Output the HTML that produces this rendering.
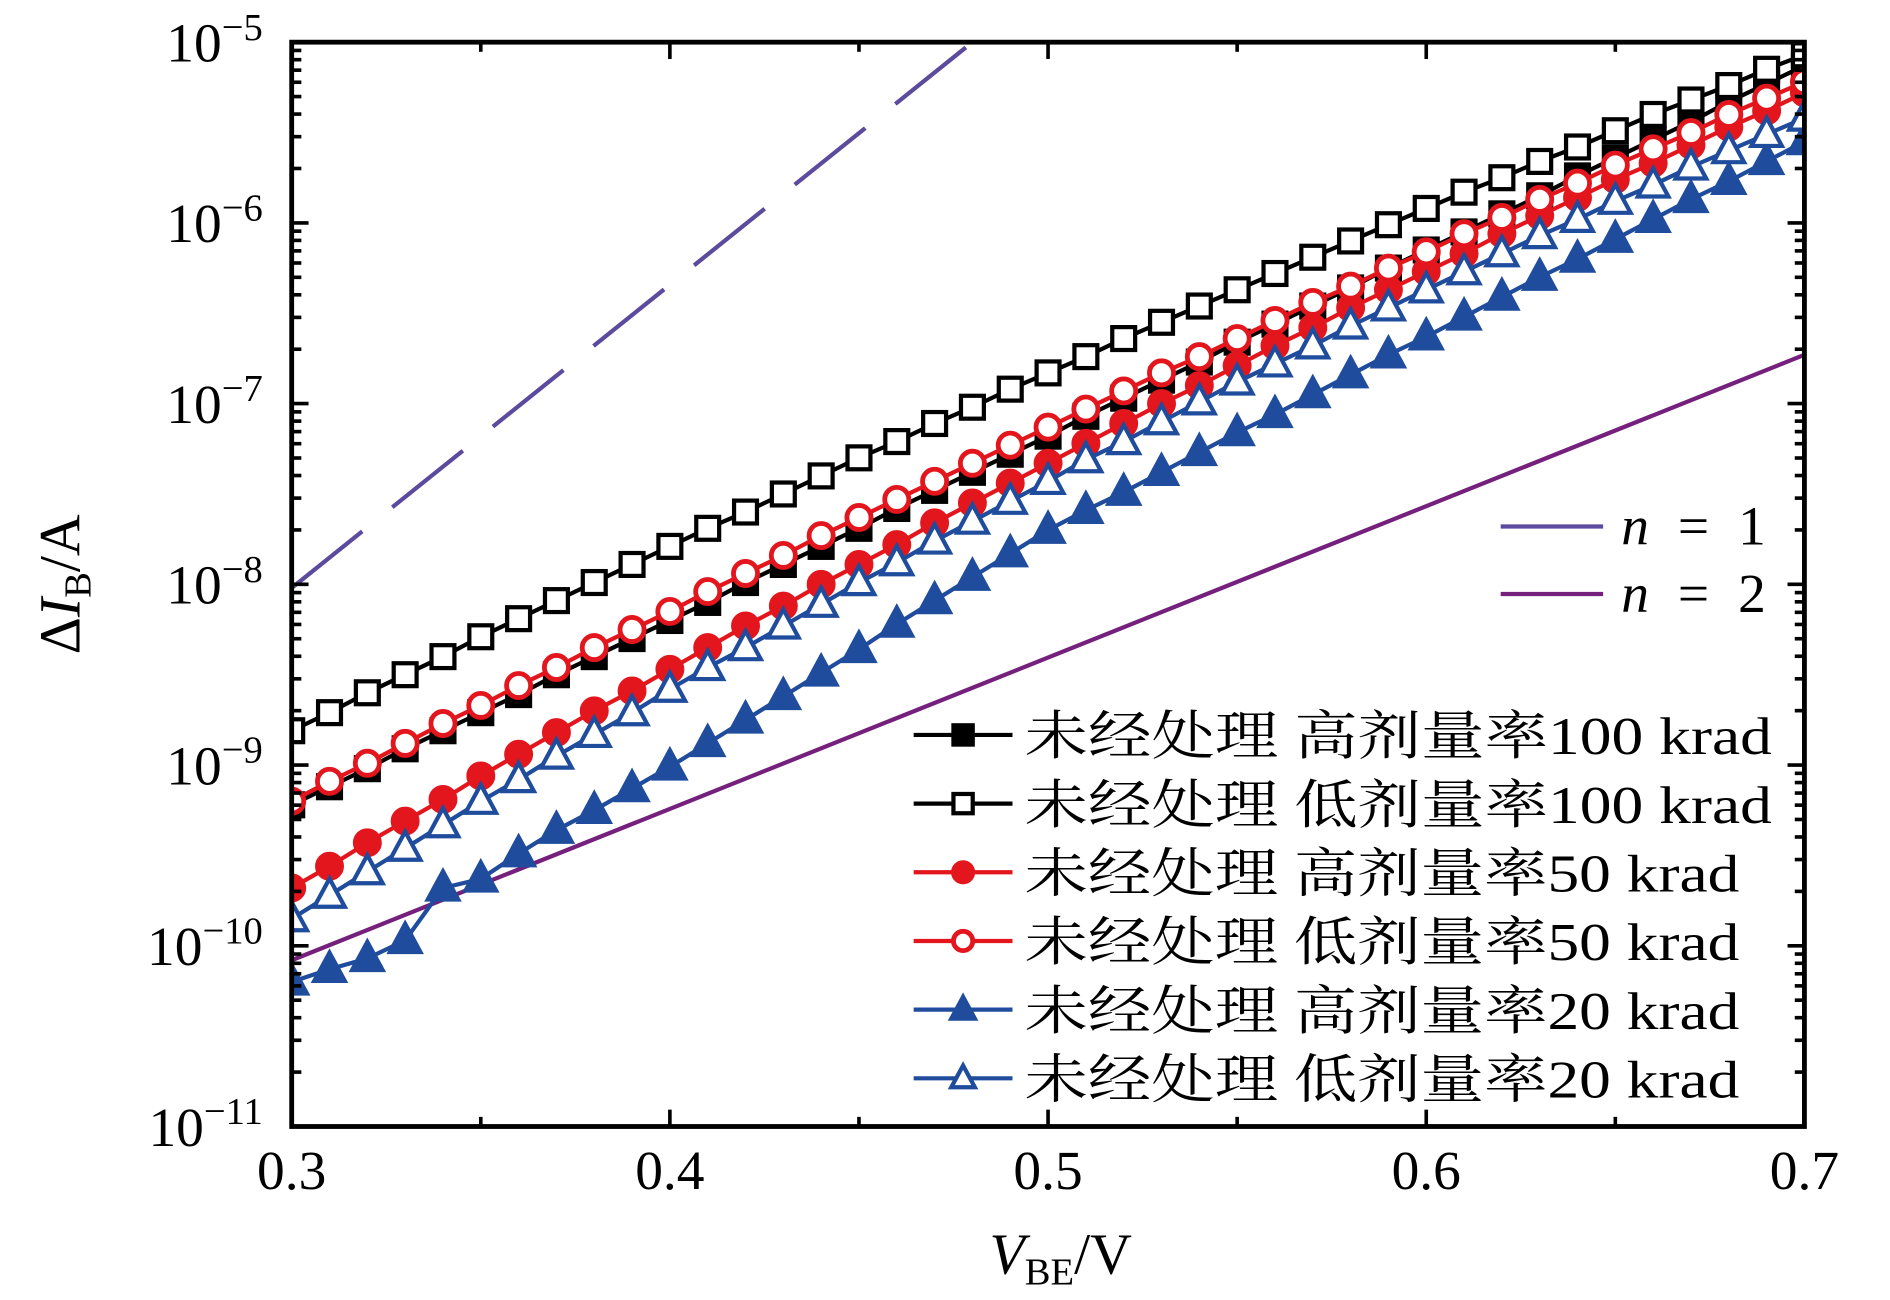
<!DOCTYPE html>
<html><head><meta charset="utf-8"><style>
html,body{margin:0;padding:0;background:#fff;}
svg{display:block;}
text{font-family:"Liberation Serif","Noto Serif CJK SC",serif;fill:#000;}
</style></head><body>
<svg id="chart" xmlns="http://www.w3.org/2000/svg" width="1890" height="1300" viewBox="0 0 1568 1079" preserveAspectRatio="none">
<g id="frame"></g>
<g id="refs"></g>
<g id="series"></g>
<g id="axes"></g>
<g id="legend"></g>
<text x="880" y="1057" font-size="48" text-anchor="middle"><tspan font-style="italic">V</tspan><tspan font-size="32" dy="9">BE</tspan><tspan dy="-9">/V</tspan></text>
<text transform="translate(66,485) rotate(-90)" font-size="48" text-anchor="middle">Δ<tspan font-style="italic">I</tspan><tspan font-size="32" dy="9">B</tspan><tspan dy="-9">/A</tspan></text>
</svg>
<script>
const xValues = [0.30,0.31,0.32,0.33,0.34,0.35,0.36,0.37,0.38,0.39,0.40,0.41,0.42,0.43,0.44,0.45,0.46,0.47,0.48,0.49,0.50,0.51,0.52,0.53,0.54,0.55,0.56,0.57,0.58,0.59,0.60,0.61,0.62,0.63,0.64,0.65,0.66,0.67,0.68,0.69,0.70];
// log10 of ΔIB
const highDose100 = [-9.22,-9.12,-9.02,-8.91,-8.81,-8.71,-8.61,-8.50,-8.40,-8.30,-8.20,-8.10,-7.99,-7.89,-7.79,-7.69,-7.58,-7.48,-7.38,-7.28,-7.18,-7.07,-6.97,-6.87,-6.77,-6.66,-6.56,-6.46,-6.36,-6.25,-6.15,-6.05,-5.95,-5.85,-5.74,-5.64,-5.54,-5.44,-5.33,-5.23,-5.13];
const lowDose100 = [-8.81,-8.71,-8.60,-8.50,-8.40,-8.29,-8.19,-8.09,-7.99,-7.89,-7.79,-7.69,-7.60,-7.50,-7.40,-7.30,-7.21,-7.11,-7.02,-6.92,-6.83,-6.74,-6.64,-6.55,-6.46,-6.37,-6.28,-6.19,-6.10,-6.01,-5.92,-5.83,-5.75,-5.66,-5.58,-5.49,-5.40,-5.32,-5.24,-5.15,-5.07];
const highDose50 = [-9.68,-9.56,-9.43,-9.31,-9.19,-9.06,-8.94,-8.82,-8.70,-8.59,-8.47,-8.35,-8.23,-8.12,-8.00,-7.89,-7.78,-7.66,-7.55,-7.44,-7.33,-7.22,-7.11,-7.00,-6.90,-6.79,-6.68,-6.58,-6.47,-6.37,-6.27,-6.17,-6.06,-5.96,-5.86,-5.76,-5.67,-5.57,-5.47,-5.38,-5.28];
const lowDose50 = [-9.20,-9.09,-8.99,-8.88,-8.77,-8.67,-8.56,-8.46,-8.35,-8.25,-8.15,-8.04,-7.94,-7.84,-7.73,-7.63,-7.53,-7.43,-7.33,-7.23,-7.13,-7.03,-6.93,-6.83,-6.74,-6.64,-6.54,-6.44,-6.35,-6.25,-6.16,-6.06,-5.97,-5.87,-5.78,-5.68,-5.59,-5.50,-5.40,-5.31,-5.22];
const highDose20 = [-10.20,-10.13,-10.07,-9.97,-9.68,-9.63,-9.49,-9.36,-9.25,-9.13,-9.01,-8.88,-8.75,-8.62,-8.49,-8.36,-8.22,-8.09,-7.96,-7.83,-7.70,-7.59,-7.49,-7.38,-7.27,-7.16,-7.06,-6.95,-6.84,-6.73,-6.63,-6.52,-6.41,-6.30,-6.20,-6.09,-5.98,-5.87,-5.77,-5.66,-5.55];
const lowDose20 = [-9.85,-9.72,-9.59,-9.46,-9.33,-9.20,-9.08,-8.95,-8.83,-8.71,-8.58,-8.46,-8.35,-8.23,-8.11,-7.99,-7.88,-7.76,-7.65,-7.54,-7.43,-7.31,-7.21,-7.10,-6.99,-6.88,-6.78,-6.68,-6.57,-6.47,-6.37,-6.27,-6.17,-6.07,-5.98,-5.88,-5.79,-5.69,-5.60,-5.51,-5.42];
const n1X = [0.30,0.48];
const n1Y = [-8.02,-5.00];
const n2X = [0.30,0.70];
const n2Y = [-10.08,-6.73];
const xTicks = [0.3,0.4,0.5,0.6,0.7];
const xTickLabels = ["0.3","0.4","0.5","0.6","0.7"];
const yTickExps = [-5,-6,-7,-8,-9,-10,-11];
const legendLabels = ["未经处理 高剂量率100 krad","未经处理 低剂量率100 krad","未经处理 高剂量率50 krad","未经处理 低剂量率50 krad","未经处理 高剂量率20 krad","未经处理 低剂量率20 krad"];

const NS="http://www.w3.org/2000/svg";
const L=242,R=1497,T=35,B=935;
const X0=0.3,X1=0.7,Y0=-11,Y1=-5;
const sx=v=>L+(v-X0)/(X1-X0)*(R-L);
const sy=v=>B-(v-Y0)/(Y1-Y0)*(B-T);
function mk(tag,parent,attrs){const e=document.createElementNS(NS,tag);for(const k in attrs)e.setAttribute(k,attrs[k]);parent.appendChild(e);return e;}

const axes=document.getElementById('axes');
const defs=mk('defs',document.getElementById('chart'),{});
const cp=mk('clipPath',defs,{id:'clip'});
mk('rect',cp,{x:L,y:T,width:R-L,height:B-T});

for(let v=0.3;v<=0.7001;v+=0.05){
  const major=Math.abs(v*10-Math.round(v*10))<1e-6;
  const len=major?14:8;
  const x=sx(v);
  const t1=mk('line',axes,{x1:x,y1:B,x2:x,y2:B-len,stroke:'#000','stroke-width':3});
  
  
  const t2=mk('line',axes,{x1:x,y1:T,x2:x,y2:T+len,stroke:'#000','stroke-width':3});
  
  
}
xTicks.forEach((v,i)=>{
  const t=mk('text',axes,{x:sx(v),y:987,'font-size':46,'text-anchor':'middle'});
  t.textContent=xTickLabels[i];
  
  
});
for(let e=-11;e<-5;e++){
  for(let m=1;m<10;m++){
    const y=sy(e+Math.log10(m));
    const len=m===1?14:8;
    const a=mk('line',axes,{x1:L,y1:y,x2:L+len,y2:y,stroke:'#000','stroke-width':3});
    
    
    const b=mk('line',axes,{x1:R,y1:y,x2:R-len,y2:y,stroke:'#000','stroke-width':3});
    
    
  }
}
yTickExps.forEach(e=>{
  const t=mk('text',axes,{x:218,y:sy(e)+16,'font-size':46,'text-anchor':'end'});
  
  
  const a=mk('tspan',t,{});a.textContent='10';
  const b=mk('tspan',t,{'font-size':32,dy:-18});b.textContent='−'+Math.abs(e);
});
const fr=mk('rect',axes,{x:L,y:T,width:R-L,height:B-T,fill:'none',stroke:'#000','stroke-width':4});



const refs=document.getElementById('refs');
const r1=mk('line',refs,{x1:sx(n1X[0]),y1:sy(n1Y[0]),x2:sx(n1X[1]),y2:sy(n1Y[1]),stroke:'#5b4a9e','stroke-width':3.5,'stroke-dasharray':'75 32','clip-path':'url(#clip)'});


const r2=mk('line',refs,{x1:sx(n2X[0]),y1:sy(n2Y[0]),x2:sx(n2X[1]),y2:sy(n2Y[1]),stroke:'#75207c','stroke-width':3.5,'clip-path':'url(#clip)'});



function marker(g,type,x,y,color,s){
  let e;
  const open=type.startsWith('open');
  const fill=open?'#fff':color;
  if(type.endsWith('sq')) e=mk('rect',g,{x:x-s,y:y-s,width:2*s,height:2*s,fill:fill,stroke:color,'stroke-width':3.5});
  else if(type.endsWith('circ')) e=mk('circle',g,{cx:x,cy:y,r:s,fill:fill,stroke:color,'stroke-width':4});
  else { const h=s*1.25; e=mk('polygon',g,{points:`${x},${y-h} ${x+s*1.15},${y+h*0.7} ${x-s*1.15},${y+h*0.7}`,fill:fill,stroke:color,'stroke-width':3.5,'stroke-linejoin':'miter'}); }
  return e;
}
const seriesDefs=[
  {name:'high-dose-100',data:highDose100,color:'#000',type:'sq'},
  {name:'low-dose-100',data:lowDose100,color:'#000',type:'opensq'},
  {name:'high-dose-50',data:highDose50,color:'#e3161d',type:'circ'},
  {name:'low-dose-50',data:lowDose50,color:'#e3161d',type:'opencirc'},
  {name:'high-dose-20',data:highDose20,color:'#1f4c9c',type:'tri'},
  {name:'low-dose-20',data:lowDose20,color:'#1f4c9c',type:'opentri'}
];
const sg=document.getElementById('series');
seriesDefs.forEach(sd=>{
  const g=mk('g',sg,{'clip-path':'url(#clip)'});
  
  
  const pts=sd.data.map((v,i)=>sx(xValues[i])+','+sy(v)).join(' ');
  const pl=mk('polyline',g,{points:pts,fill:'none',stroke:sd.color,'stroke-width':3.5});
  
  
  sd.data.forEach((v,i)=>{
    const size=sd.type.endsWith('sq')?9.5:(sd.type.endsWith('circ')?10:11);
    const m=marker(g,sd.type,sx(xValues[i]),sy(v),sd.color,size);
    
    
  });
});

const lg=document.getElementById('legend');
seriesDefs.forEach((sd,i)=>{
  const y=610+i*57;
  const g=mk('g',lg,{});
  
  
  mk('line',g,{x1:758,y1:y,x2:840,y2:y,stroke:sd.color,'stroke-width':3.5});
  marker(g,sd.type,799,y,sd.color,sd.type.endsWith('tri')?8.5:8);
  const t=mk('text',g,{x:850,y:y+16,'font-size':44,textLength:i<2?620:593,lengthAdjust:'spacingAndGlyphs'});
  t.textContent=legendLabels[i];
});
[['n1','#5b4a9e','1',437],['n2','#75207c','2',493]].forEach(([n,c,v,y])=>{
  const g=mk('g',lg,{});
  
  
  mk('line',g,{x1:1245,y1:y,x2:1330,y2:y,stroke:c,'stroke-width':3.5});
  const t=mk('text',g,{x:1345,y:y+15,'font-size':46,textLength:120,lengthAdjust:'spacing'});
  const a=mk('tspan',t,{'font-style':'italic'});a.textContent='n';
  const b=mk('tspan',t,{});b.textContent=' = '+v;
});
</script>
</body></html>
